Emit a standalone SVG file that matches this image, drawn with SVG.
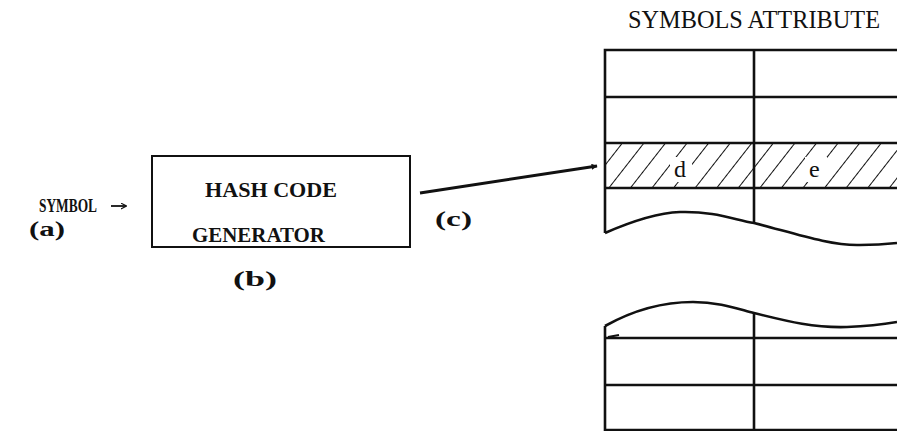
<svg xmlns="http://www.w3.org/2000/svg" width="897" height="431" viewBox="0 0 897 431">
<style>
.t{font-family:"Liberation Serif","DejaVu Serif",serif;font-weight:bold;fill:#111;}
.m{font-family:"Liberation Serif","DejaVu Serif",serif;fill:#111;}
.ln{stroke:#111;stroke-width:2.6;fill:none;}
.th{stroke:#111;stroke-width:2;fill:none;}
</style>
<defs>
<pattern id="hatch" width="17" height="17" patternUnits="userSpaceOnUse" patternTransform="rotate(38)">
<line x1="0" y1="0" x2="0" y2="17" stroke="#111" stroke-width="2"/>
</pattern>
<marker id="ah" viewBox="0 0 10 10" refX="9" refY="5" markerWidth="9" markerHeight="6" markerUnits="userSpaceOnUse" orient="auto">
<path d="M0,0 L10,5 L0,10 z" fill="#111"/>
</marker>
<marker id="ah2" viewBox="0 0 10 10" refX="9" refY="5" markerWidth="6" markerHeight="7" markerUnits="userSpaceOnUse" orient="auto">
<path d="M0,0 L10,5 L0,10" fill="none" stroke="#111" stroke-width="2"/>
</marker>
</defs>
<rect width="897" height="431" fill="#fff"/>

<g id="symbol">
<text class="t" x="39" y="212" font-size="18" textLength="58" lengthAdjust="spacingAndGlyphs">SYMBOL</text>
<text class="t" x="29" y="236" font-size="20" textLength="36" lengthAdjust="spacingAndGlyphs">(a)</text>
</g>

<g id="hash-code-generator">
<rect x="152" y="156" width="258" height="91" class="th"/>
<text class="t" x="205" y="197" font-size="22" textLength="132" lengthAdjust="spacingAndGlyphs">HASH CODE</text>
<text class="t" x="192" y="242" font-size="22" textLength="133" lengthAdjust="spacingAndGlyphs">GENERATOR</text>
<text class="t" x="233" y="286" font-size="20" textLength="44" lengthAdjust="spacingAndGlyphs">(b)</text>
</g>

<g id="connectors">
<line x1="111" y1="206" x2="126" y2="206" stroke="#111" stroke-width="1.8" marker-end="url(#ah2)"/>
<line x1="420" y1="193" x2="597" y2="166" stroke="#111" stroke-width="3" marker-end="url(#ah)"/>
<text class="t" x="435" y="226" font-size="20" textLength="37" lengthAdjust="spacingAndGlyphs">(c)</text>
</g>

<g id="symbols-attribute-table">
<text class="m" x="628" y="28" font-size="26" textLength="252" lengthAdjust="spacingAndGlyphs">SYMBOLS ATTRIBUTE</text>
<rect x="605" y="143" width="292" height="45" fill="url(#hatch)"/>
<rect x="670" y="157" width="22" height="25" fill="#fff"/>
<rect x="805" y="157" width="22" height="25" fill="#fff"/>
<text class="m" x="674" y="177" font-size="24">d</text>
<text class="m" x="809" y="177" font-size="24">e</text>
<path class="ln" d="M897,50 H605 V233"/>
<line class="ln" x1="605" y1="97" x2="897" y2="97"/>
<line class="ln" x1="605" y1="143" x2="897" y2="143"/>
<line class="ln" x1="605" y1="188" x2="897" y2="188"/>
<line class="ln" x1="754" y1="50" x2="754" y2="222"/>
<path class="ln" d="M605,233 C630,222 655,213 680,212 C715,211 735,220 754,223 C790,232 830,246 860,245 C875,245 888,244 897,243"/>

<path class="ln" d="M605,326 C630,312 660,302 693,302 C720,302 738,309 754,313 C790,322 815,328 847,327 C870,326 885,324 897,322"/>
<path class="ln" d="M605,326 V430 H897"/>
<line class="ln" x1="605" y1="338" x2="897" y2="338"/>
<line class="ln" x1="605" y1="385" x2="897" y2="385"/>
<line class="ln" x1="754" y1="313" x2="754" y2="430"/>
<path d="M608,337 L619,335" stroke="#111" stroke-width="2"/>
</g>
</svg>
